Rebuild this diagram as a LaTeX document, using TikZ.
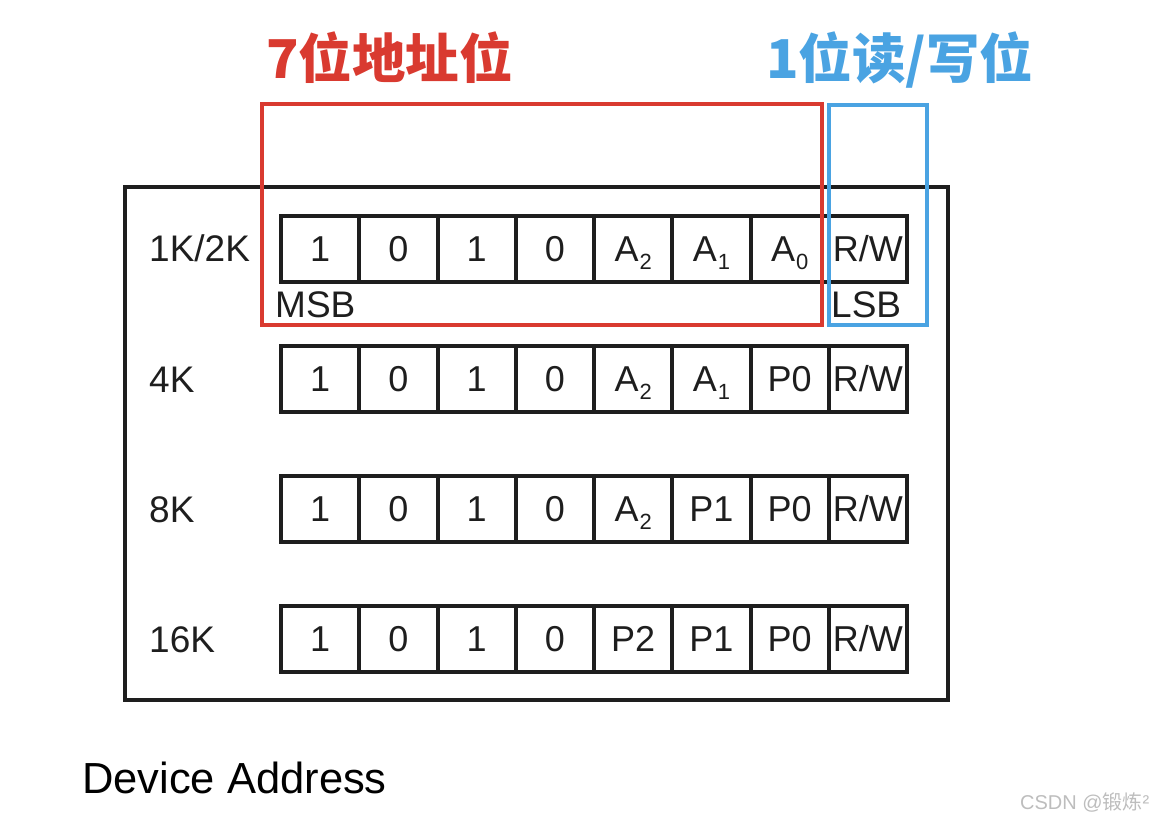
\documentclass[tikz,border=0pt]{standalone}
\usepackage{fontspec}
\setmainfont{Liberation Sans}
\newfontfamily\cjk{Noto Sans CJK SC}
\definecolor{addrred}{HTML}{D93A30}
\definecolor{rwblue}{HTML}{4AA3E2}
\definecolor{inkblack}{HTML}{1E1E1E}
\definecolor{markgray}{HTML}{BDBDBD}

% subscripted address bit
\newcommand{\Asub}[1]{A\kern1pt\raisebox{-8pt}[0pt][0pt]{\fontsize{22}{22}\selectfont #1}}

\tikzset{
  bitcell/.style={draw=inkblack, line width=4pt, minimum width=78.25pt, minimum height=66pt,
    inner sep=0pt, text=inkblack, font=\fontsize{36}{36}\selectfont},
  rowlabel/.style={anchor=base west, inner sep=0pt, text=inkblack, font=\fontsize{37}{37}\selectfont},
  titletext/.style={anchor=base west, inner sep=0pt, font=\cjk\bfseries\fontsize{53.5}{53.5}\selectfont},
}

\begin{document}
\begin{tikzpicture}[x=1pt, y=-1pt]
			\useasboundingbox (0,0) rectangle (1160,821);
			
			% Outer box
			\draw [inkblack, line width=4pt] (124.5,187) rectangle (948,699.5);
			
			% Address rows
			\foreach \lab/\bits [count=\r] in {
				{1K/2K}/{1,0,1,0,\Asub{2},\Asub{1},\Asub{0},{R/W}},
				{4K}/{1,0,1,0,\Asub{2},\Asub{1},P0,{R/W}},
				{8K}/{1,0,1,0,\Asub{2},P1,P0,{R/W}},
				{16K}/{1,0,1,0,P2,P1,P0,{R/W}}} {
				\node [rowlabel] (lab-\r) at (149,{262+130*(\r-1)}) {\lab};
				\foreach \bit [count=\c] in \bits
					\node [bitcell] (cell-\r-\c) at ({281+78.25*(\c-0.5)},{249+130*(\r-1)}) {\bit};
			}
			
			% MSB / LSB
			\node [rowlabel] (msb) at (275,317) {MSB};
			\node [rowlabel] (lsb) at (831,317) {LSB};
			
			% Address and R/W frames
			\draw [addrred, line width=4pt] (262,104) rectangle (822,325);
			\draw [rwblue, line width=4pt] (829,105) rectangle (927,325);
			\node [titletext, text=addrred] (addr-title) at (266,79) {7位地址位};
			\node [titletext, text=rwblue] (rw-title) at (766,79) {1位读/写位};
			
			% Caption
			\node [anchor=base west, inner sep=0pt, font=\fontsize{43.5}{43.5}\selectfont] (caption) at (82,793) {Device Address};
			\node [anchor=base west, inner sep=0pt, text=markgray, font=\fontsize{20}{20}\selectfont] (mark) at (1020,809) {CSDN @{\cjk 锻炼}²};
		\end{tikzpicture}
\end{document}
